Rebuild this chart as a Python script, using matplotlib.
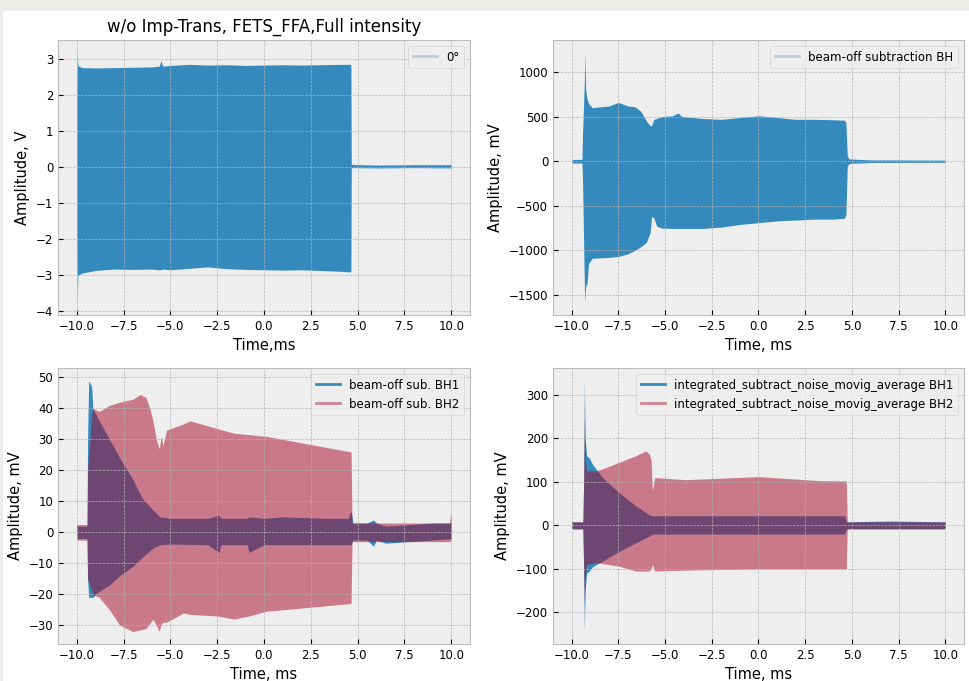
import matplotlib
matplotlib.use("Agg")
import matplotlib.pyplot as plt
from matplotlib.lines import Line2D
from matplotlib.patches import Rectangle

plt.style.use("bmh")
plt.rcParams["font.size"] = 8.5
plt.rcParams["axes.labelsize"] = 10.5
plt.rcParams["axes.titlesize"] = 12

BLUE = "#348ABD"
RED = "#A60628"

# --- envelopes (time in ms, upper / lower edge of the trace) ---
# top left: 0 deg, V
t_a = [-10.0, -9.97, -9.94, -9.9, -9.7, -9.0, -8.0, -7.0, -6.0, -5.6, -5.5, -5.4, -5.0,
       -4.0, -3.0, -2.0, -1.0, 0.0, 1.0, 2.0, 3.0, 4.0, 4.6, 4.64, 4.66, 6.0, 8.0, 10.0]
up_a = [2.0, 3.18, 2.85, 2.8, 2.76, 2.75, 2.76, 2.77, 2.78, 2.8, 2.95, 2.8, 2.82,
        2.85, 2.83, 2.84, 2.82, 2.83, 2.84, 2.83, 2.84, 2.85, 2.85, 2.83, 0.07, 0.05, 0.06, 0.06]
lo_a = [-2.0, -3.77, -3.0, -3.0, -2.95, -2.88, -2.84, -2.85, -2.84, -2.86, -2.86, -2.84, -2.86,
        -2.82, -2.78, -2.83, -2.85, -2.86, -2.87, -2.86, -2.88, -2.9, -2.92, -2.9, -0.02, -0.03, -0.02, -0.03]

# top right: beam-off subtraction, mV
t_b = [-10.0, -9.45, -9.42, -9.32, -9.29, -9.25, -9.18, -9.1, -8.9, -8.5, -8.0, -7.5, -7.0,
       -6.6, -6.3, -6.0, -5.8, -5.72, -5.6, -5.45, -5.2, -4.6, -4.3, -4.1, -3.0, -2.0, -1.0,
       0.0, 1.0, 2.0, 3.0, 4.0, 4.6, 4.68, 4.75, 4.85, 6.0, 10.0]
up_b = [20, 20, 300, 900, 1220, 800, 700, 650, 600, 610, 620, 660, 620,
        610, 560, 450, 400, 400, 470, 480, 500, 510, 540, 500, 480, 470, 490,
        510, 490, 470, 470, 465, 460, 430, 60, 25, 15, 12]
lo_b = [-20, -20, -200, -1400, -1586, -1400, -1380, -1150, -1090, -1085, -1080, -1070, -1040,
        -1000, -960, -910, -800, -620, -640, -730, -750, -755, -755, -755, -755, -740, -710,
        -690, -670, -660, -650, -650, -640, -600, -60, -25, -15, -12]

# bottom left: beam-off sub. BH1 / BH2, mV
t_c1 = [-10.0, -9.45, -9.42, -9.36, -9.2, -9.14, -8.8, -8.25, -7.7, -7.0, -6.5, -5.9, -5.55,
        -5.0, -3.0, -2.4, -2.3, -0.9, -0.8, 0.0, 1.0, 3.5, 4.5, 4.65, 4.75, 5.5, 5.85, 6.0,
        6.5, 9.0, 10.0]
up_c1 = [2, 2, 30, 49, 47, 40, 36, 30, 24, 17, 11, 7, 5,
         4.5, 4.5, 5.5, 4.5, 4.5, 5, 4.5, 5, 4.5, 4.5, 7, 3, 3, 4, 3,
         2, 3, 3]
lo_c1 = [-2, -2, -15, -21, -21, -21, -19, -17, -14, -11, -8, -5, -4,
         -3.8, -4, -6.5, -4, -4, -6.5, -4, -4, -4, -4, -4, -2.5, -2.5, -4.5, -2.5,
         -3.5, -2.5, -2]
t_c2 = [-10.0, -9.45, -9.42, -9.2, -9.14, -8.8, -8.25, -7.7, -7.0, -6.6, -6.3, -6.1, -5.93,
        -5.75, -5.6, -5.48, -5.4, -5.2, -4.3, -3.95, -2.5, -1.6, -0.8, 0.1, 1.9, 3.7, 4.6,
        4.65, 4.7, 9.9, 10.0]
up_c2 = [2.5, 2.5, 20, 38, 40, 39, 41, 42, 43, 44.5, 43.5, 40, 36,
         30, 27, 31, 28, 33, 35, 36, 33.5, 32, 31.5, 31, 29, 27, 26,
         26, 3, 3, 7]
lo_c2 = [-2.5, -2.5, -15, -19, -20, -21, -25, -30, -32, -31.5, -31, -29.5, -28,
         -30, -32, -29.5, -29, -29, -26, -26.5, -27, -28, -27, -25.5, -24.5, -23.5, -23,
         -23, -3, -3, -2.5]

# bottom right: integrated_subtract_noise_movig_average BH1 / BH2, mV
t_d1 = [-10.0, -9.4, -9.36, -9.32, -9.28, -9.2, -9.06, -8.88, -8.35, -7.46, -6.57, -5.86,
        -5.68, 0.0, 4.6, 4.72, 7.0, 10.0]
up_d1 = [8, 8, 100, 333, 200, 160, 155, 140, 110, 75, 45, 25, 22, 22, 22, 8, 10, 8]
lo_d1 = [-8, -8, -100, -244, -150, -110, -105, -95, -82, -60, -40, -25, -20, -20, -20, -8, -8, -8]
t_d2 = [-10.0, -9.4, -9.36, -9.32, -9.28, -9.2, -8.7, -8.35, -7.46, -6.57, -6.04, -5.86,
        -5.75, -5.68, -5.55, -3.9, 0.0, 3.2, 4.7, 4.75, 10.0]
up_d2 = [8, 8, 100, 247, 150, 125, 125, 130, 145, 160, 171, 165, 150, 80, 110, 105, 112,
         103, 102, 8, 8]
lo_d2 = [-8, -8, -100, -178, -120, -90, -86, -88, -94, -105, -105, -105, -100, -90, -105,
         -103, -100, -100, -100, -8, -8]

fig = plt.figure(figsize=(9.7, 6.81), dpi=100, facecolor="white")
# screenshot frame around the figure
fig.patches.append(Rectangle((0, 1 - 10 / 681), 1, 10 / 681, transform=fig.transFigure,
                             color="#ecebe8", zorder=0))
fig.patches.append(Rectangle((0, 0), 2 / 970, 1, transform=fig.transFigure,
                             color="#ecebe8", zorder=0))

ax1 = fig.add_axes([58 / 970, 1 - 315 / 681, 412 / 970, 275 / 681])
ax2 = fig.add_axes([553 / 970, 1 - 315 / 681, 411 / 970, 275 / 681])
ax3 = fig.add_axes([58 / 970, 1 - 644 / 681, 412 / 970, 276 / 681])
ax4 = fig.add_axes([553 / 970, 1 - 644 / 681, 411 / 970, 276 / 681])

ax1.fill_between(t_a, lo_a, up_a, color=BLUE, lw=0)
ax1.set_title("w/o Imp-Trans, FETS_FFA,Full intensity")
ax1.set_ylabel("Amplitude, V")
ax1.set_xlabel("Time,ms")
ax1.legend(handles=[Line2D([], [], color=BLUE, alpha=0.3, lw=2, label="0°")], loc="upper right")

ax2.fill_between(t_b, lo_b, up_b, color=BLUE, lw=0)
ax2.set_ylabel("Amplitude, mV")
ax2.set_xlabel("Time, ms")
ax2.legend(handles=[Line2D([], [], color=BLUE, alpha=0.3, lw=2,
                           label="beam-off subtraction BH")], loc="upper right")

ax3.fill_between(t_c1, lo_c1, up_c1, color=BLUE, lw=0)
ax3.fill_between(t_c2, lo_c2, up_c2, color=RED, alpha=0.5, lw=0)
ax3.set_ylabel("Amplitude, mV")
ax3.set_xlabel("Time, ms")
ax3.legend(handles=[Line2D([], [], color=BLUE, lw=2, label="beam-off sub. BH1"),
                    Line2D([], [], color=RED, alpha=0.45, lw=2, label="beam-off sub. BH2")],
           loc="upper right")

ax4.fill_between(t_d1, lo_d1, up_d1, color=BLUE, lw=0)
ax4.fill_between(t_d2, lo_d2, up_d2, color=RED, alpha=0.5, lw=0)
ax4.set_ylabel("Amplitude, mV")
ax4.set_xlabel("Time, ms")
ax4.legend(handles=[Line2D([], [], color=BLUE, lw=2,
                           label="integrated_subtract_noise_movig_average BH1"),
                    Line2D([], [], color=RED, alpha=0.45, lw=2,
                           label="integrated_subtract_noise_movig_average BH2")],
           loc="upper right")

for ax in (ax1, ax2, ax3, ax4):
    ax.set_xticks([-10, -7.5, -5, -2.5, 0, 2.5, 5, 7.5, 10])

fig.savefig("out.png", dpi=100, facecolor="white")
